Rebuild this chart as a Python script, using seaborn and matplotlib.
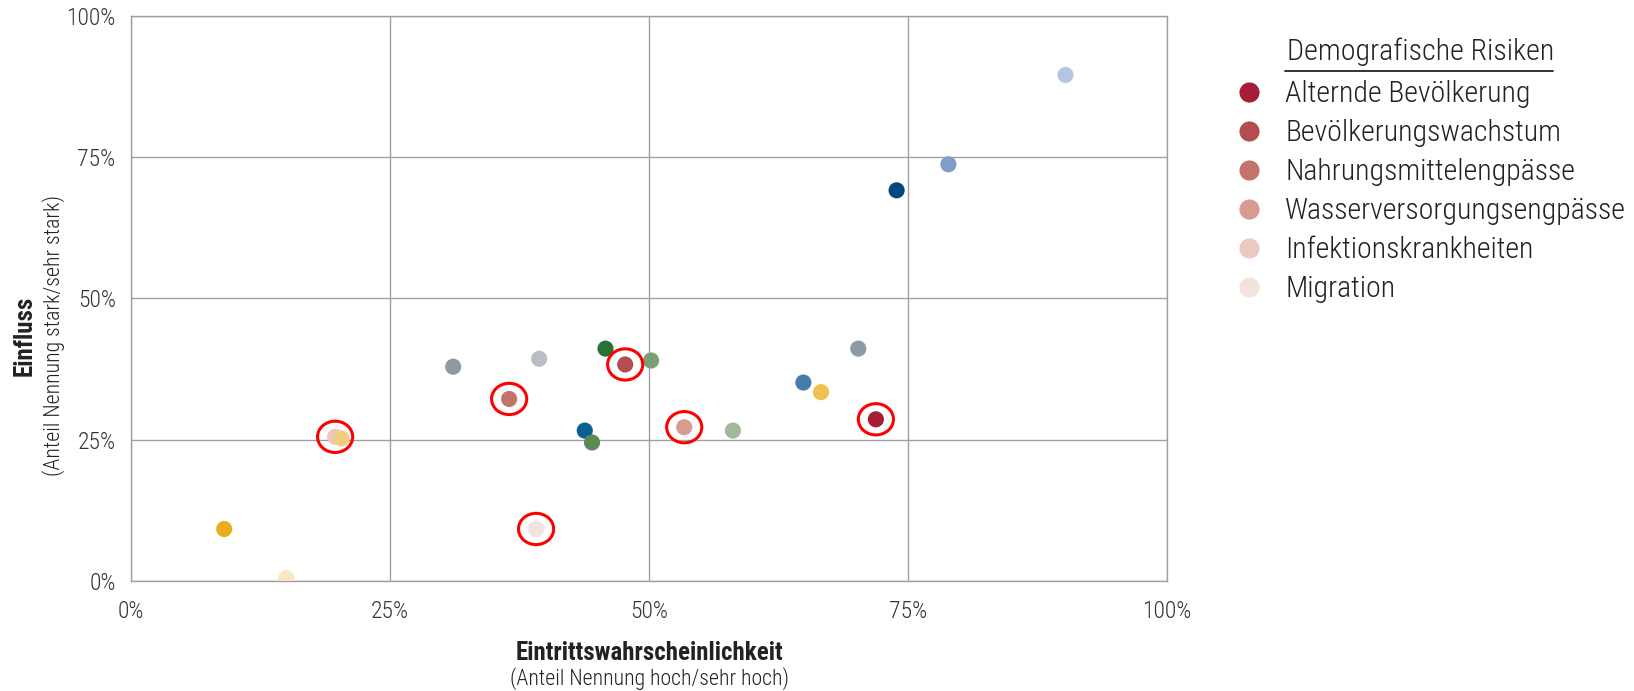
import matplotlib
matplotlib.use("Agg")
import matplotlib.pyplot as plt
import seaborn as sns
import pandas as pd
from matplotlib import font_manager as fm
from matplotlib.lines import Line2D
from matplotlib.path import Path
from matplotlib.transforms import Affine2D
from matplotlib.ticker import FixedLocator

# Demographic risks (highlighted, shown in the legend)
demo_risks = ["Alternde Bevölkerung", "Bevölkerungswachstum", "Nahrungsmittelengpässe",
              "Wasserversorgungsengpässe", "Infektionskrankheiten", "Migration"]
demo_prob = [71.9, 47.7, 36.5, 53.4, 19.7, 39.1]
demo_impact = [28.6, 38.3, 32.2, 27.2, 25.5, 9.2]
demo_colors = ["#a51d36", "#b34e50", "#c2736b", "#d69b91", "#edc8c0", "#f3e3df"]

# Remaining risks of the other categories
other_ids = [f"r{i:02d}" for i in range(16)]
other_prob = [90.2, 78.9, 73.9, 70.2, 64.9, 66.6, 58.1, 50.2, 45.8, 43.8, 44.5, 39.4, 31.1, 20.3, 9.0, 15.0]
other_impact = [89.5, 73.7, 69.1, 41.1, 35.1, 33.4, 26.6, 39.0, 41.1, 26.6, 24.5, 39.3, 37.9, 25.2, 9.2, 0.5]
other_colors = ["#b3c6e0", "#7f9ec4", "#00497f", "#8e9aa4", "#4a7bad", "#efc050", "#a1b899", "#7a9e74",
                "#2a7138", "#0b6090", "#5a8a55", "#b7bec4", "#8d99a3", "#f1ce7c", "#e8ae1f", "#f7e8c4"]

ticks = [0, 25, 50, 75, 100]
tick_labels = ["0%", "25%", "50%", "75%", "100%"]

sns.set_theme(style="white")


def pick_condensed_font():
    """Return (family, stretch) for a narrow sans-serif face, if one is installed."""
    entries = fm.fontManager.ttflist
    names = {f.name for f in entries}
    for fam in ["Roboto Condensed", "Liberation Sans Narrow", "Noto Sans Condensed",
                "Open Sans Condensed", "DejaVu Sans Condensed", "Noto Sans Display Condensed"]:
        if fam in names:
            return fam, "normal"
    for fam in ["Roboto", "Noto Sans", "Open Sans", "DejaVu Sans", "Liberation Sans"]:
        for f in entries:
            if f.name == fam and "cond" in str(f.stretch).lower():
                return fam, "condensed"
    for f in entries:
        if "condensed" in f.name.lower() or "narrow" in f.name.lower():
            return f.name, "normal"
    return "DejaVu Sans", "normal"


base_font, base_stretch = pick_condensed_font()
plt.rcParams["font.family"] = [base_font, "DejaVu Sans"]
plt.rcParams["font.stretch"] = base_stretch

fig = plt.figure(figsize=(16.34, 6.91), dpi=100)
ax = fig.add_axes([131 / 1634, 1 - 581 / 691, (1167 - 131) / 1634, (581 - 15.6) / 691])

demo = pd.DataFrame({"Risiko": demo_risks, "x": demo_prob, "y": demo_impact})
other = pd.DataFrame({"Risiko": other_ids, "x": other_prob, "y": other_impact})

dot_size = 135
sns.scatterplot(data=demo, x="x", y="y", hue="Risiko", palette=dict(zip(demo_risks, demo_colors)),
                s=dot_size, linewidth=0, legend=False, ax=ax, zorder=3)
sns.scatterplot(data=other, x="x", y="y", hue="Risiko", palette=dict(zip(other_ids, other_colors)),
                s=dot_size, linewidth=0, legend=False, ax=ax, zorder=3)

# Red rings around the demographic risks
ring = Path.unit_circle().transformed(Affine2D().scale(1.0, 0.89))
ax.scatter(demo["x"], demo["y"], s=640, marker=ring, facecolors="none",
           edgecolors="#ff0000", linewidths=2.2, zorder=4)

ax.set_xlim(0, 100)
ax.set_ylim(0, 100)
ax.xaxis.set_major_locator(FixedLocator(ticks))
ax.yaxis.set_major_locator(FixedLocator(ticks))
ax.set_xticklabels(tick_labels)
ax.set_yticklabels(tick_labels)
ax.tick_params(axis="both", length=0, labelsize=17, labelcolor="#333333")
ax.tick_params(axis="x", pad=14)
ax.tick_params(axis="y", pad=11)
for lab in ax.get_xticklabels() + ax.get_yticklabels():
    lab.set_fontweight("light")
ax.grid(True, color="#a0a0a0", linewidth=1.0)
for sp in ax.spines.values():
    sp.set_color("#a0a0a0")
    sp.set_linewidth(1.0)
ax.set_xlabel("")
ax.set_ylabel("")

# Axis titles
fig.text(649 / 1634, 1 - 653 / 691, "Eintrittswahrscheinlichkeit", ha="center", va="center",
         fontsize=18, fontweight="bold", color="#222222")
fig.text(649 / 1634, 1 - 679 / 691, "(Anteil Nennung hoch/sehr hoch)", ha="center", va="center",
         fontsize=15.7, fontweight="light", color="#222222")
fig.text(25 / 1634, 1 - 336 / 691, "Einfluss", ha="center", va="center", rotation=90,
         fontsize=18, fontweight="bold", color="#222222")
fig.text(54 / 1634, 1 - 336 / 691, "(Anteil Nennung stark/sehr stark)", ha="center", va="center",
         rotation=90, fontsize=15.7, fontweight="light", color="#222222")

# Legend with underlined title
fig.text(1287 / 1634, 1 - 52 / 691, "Demografische Risiken", ha="left", va="center",
         fontsize=21.6, fontweight="light", color="#222222")
fig.add_artist(Line2D([1285 / 1634, 1553 / 1634], [1 - 71 / 691, 1 - 71 / 691],
                      color="#222222", linewidth=1.3))
handles = [Line2D([], [], marker="o", linestyle="", markersize=14.5, markerfacecolor=c,
                  markeredgewidth=0) for c in demo_colors]
leg = fig.legend(handles, demo_risks, loc="upper left", bbox_to_anchor=(1237 / 1634, 1 - 80 / 691),
                 frameon=False, fontsize=21.5, labelcolor="#222222", handlelength=0.8,
                 handletextpad=0.82, labelspacing=0.37, borderpad=0, borderaxespad=0)
for t in leg.get_texts():
    t.set_fontweight("light")

fig.savefig("out.png", dpi=100)
